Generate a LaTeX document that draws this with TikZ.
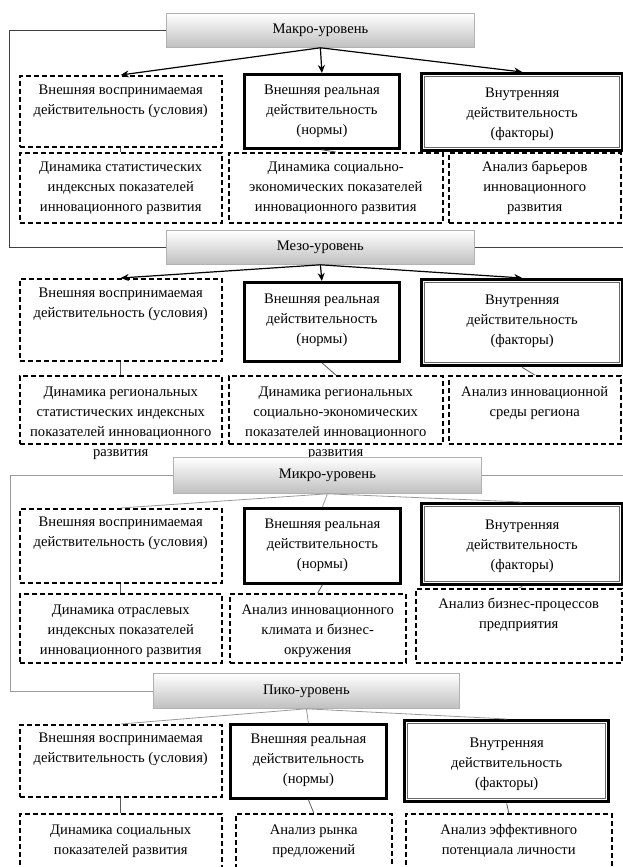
\documentclass[tikz,border=0pt]{standalone}
\usepackage{fontspec}
\setmainfont{Liberation Serif}
\usepackage{tikz}
\usetikzlibrary{calc}
\usetikzlibrary{arrows.meta}

\newcommand{\cell}[4]{\parbox[c][#2pt][t]{#1pt}{\centering\rule{0pt}{#3pt}#4}}

\tikzset{
    lvl/.style={draw=black!30, line width=0.8pt, top color=white, bottom color=black!25, anchor=north west, inner sep=0pt},
    condbox/.style={draw, dash pattern=on 5pt off 3pt, line width=1.5pt, anchor=north west, inner sep=0pt},
    normbox/.style={draw, line width=2.8pt, anchor=north west, inner sep=0pt},
    facbox/.style={draw, line width=3.4pt, anchor=north west, inner sep=0pt},
    arr/.style={->, line width=1.2pt},
    lnk/.style={black!65, line width=0.8pt},
    thin lnk/.style={black!40, line width=0.8pt},
    frm/.style={black!75, line width=0.8pt},
    thin frm/.style={black!40, line width=0.8pt}
}

\begin{document}
\begin{tikzpicture}[x=1pt, y=-1pt, >={Stealth[length=8pt, width=7pt]}, every node/.style={font=\fontsize{14.6}{20}\selectfont}]
    \useasboundingbox (0,0) rectangle (622,867);

    % Makro
    \node[lvl, minimum width=308pt, minimum height=34pt] (mak) at (166,13) {Макро-уровень};
    \node[condbox] (makA) at (19,75) {\cell{202}{71}{18.5}{Внешняя воспринимаемая\\действительность (условия)}};
    \node[normbox] (makB) at (243,73) {\cell{155}{74}{20.5}{Внешняя реальная\\действительность\\(нормы)}};
    \node[facbox] (makC) at (420,72) {\cell{201}{77}{23.5}{Внутренняя\\действительность\\(факторы)}};
    \node[condbox] (makD) at (19,152) {\cell{202}{70}{18.5}{Динамика статистических\\индексных показателей\\инновационного развития}};
    \node[condbox] (makE) at (228,152) {\cell{214}{70}{18.5}{Динамика социально-\\экономических показателей\\инновационного развития}};
    \node[condbox] (makF) at (448,152) {\cell{172}{70}{18.5}{Анализ барьеров\\инновационного\\развития}};

    % Mezo
    \node[lvl, minimum width=308pt, minimum height=34pt] (mez) at (166,230) {Мезо-уровень};
    \node[condbox] (mezA) at (19,278) {\cell{202}{82}{18.5}{Внешняя воспринимаемая\\действительность (условия)}};
    \node[normbox] (mezB) at (243,281) {\cell{155}{79}{21.5}{Внешняя реальная\\действительность\\(нормы)}};
    \node[facbox] (mezC) at (420,278) {\cell{201}{86}{24.5}{Внутренняя\\действительность\\(факторы)}};
    \node[condbox] (mezD) at (19,375) {\cell{202}{68}{20.5}{Динамика региональных\\статистических индексных\\показателей инновационного\\развития}};
    \node[condbox] (mezE) at (228,375) {\cell{214}{68}{20.5}{Динамика региональных\\социально-экономических\\показателей инновационного\\развития}};
    \node[condbox] (mezF) at (448,375) {\cell{172}{68}{20.5}{Анализ инновационной\\среды региона}};

    % Mikro
    \node[lvl, minimum width=308pt, minimum height=36pt] (mik) at (173,457) {Микро-уровень};
    \node[condbox] (mikA) at (19,508) {\cell{202}{74}{17.5}{Внешняя воспринимаемая\\действительность (условия)}};
    \node[normbox] (mikB) at (243,507) {\cell{156}{75}{20.5}{Внешняя реальная\\действительность\\(нормы)}};
    \node[facbox] (mikC) at (420,502) {\cell{201}{81}{25.5}{Внутренняя\\действительность\\(факторы)}};
    \node[condbox] (mikD) at (19,593) {\cell{202}{69}{20.5}{Динамика отраслевых\\индексных показателей\\инновационного развития}};
    \node[condbox] (mikE) at (229,593) {\cell{176}{69}{20.5}{Анализ инновационного\\климата и бизнес-\\окружения}};
    \node[condbox] (mikF) at (415,588) {\cell{206}{74}{19.5}{Анализ бизнес-процессов\\предприятия}};

    % Piko
    \node[lvl, minimum width=306pt, minimum height=35pt] (pik) at (153,673) {Пико-уровень};
    \node[condbox] (pikA) at (19,724) {\cell{202}{72}{17.5}{Внешняя воспринимаемая\\действительность (условия)}};
    \node[normbox] (pikB) at (229,723) {\cell{156}{74}{19.5}{Внешняя реальная\\действительность\\(нормы)}};
    \node[facbox] (pikC) at (403,719) {\cell{204}{81}{26.5}{Внутренняя\\действительность\\(факторы)}};
    \node[condbox] (pikD) at (19,813) {\cell{202}{70}{20.5}{Динамика социальных\\показателей развития}};
    \node[condbox] (pikE) at (235,813) {\cell{156}{70}{20.5}{Анализ рынка\\предложений}};
    \node[condbox] (pikF) at (405,813) {\cell{206}{70}{20.5}{Анализ эффективного\\потенциала личности}};

    \foreach \b in {makC, mezC, mikC, pikC}
        \draw[black!60, line width=0.9pt] ([shift={(4.6pt,-4.6pt)}]\b.north west) rectangle ([shift={(-4.6pt,4.6pt)}]\b.south east);

    \draw[frm] (mak.west) -- ++(-157,0) |- (mez.west);
    \draw[frm] (mez.east) -- ++(148,0);
    \draw[thin frm] (mik.west) -- ++(-163,0) |- (pik.west);
    \draw[thin frm] (mik.east) -- ++(141,0);

    \foreach \l in {mak, mez} {
        \draw[arr] (\l.south) -- (\l A.north);
        \draw[arr] (\l.south) -- (\l B.north);
        \draw[arr] (\l.south) -- (\l C.north);
    }
    \foreach \l in {mik, pik} {
        \draw[thin lnk] (\l.south) -- (\l A.north);
        \draw[thin lnk] (\l.south) -- (\l B.north);
        \draw[thin lnk] (\l.south) -- (\l C.north);
    }

    \draw[lnk] (makA.south) -- (makD.north);
    \draw[lnk] (makB.south) -- (makE.north);
    \foreach \l in {mez, mik, pik} {
        \draw[lnk] (\l A.south) -- (\l D.north);
        \draw[lnk] (\l B.south) -- (\l E.north);
        \draw[lnk] (\l C.south) -- (\l F.north);
    }
\end{tikzpicture}
\end{document}
